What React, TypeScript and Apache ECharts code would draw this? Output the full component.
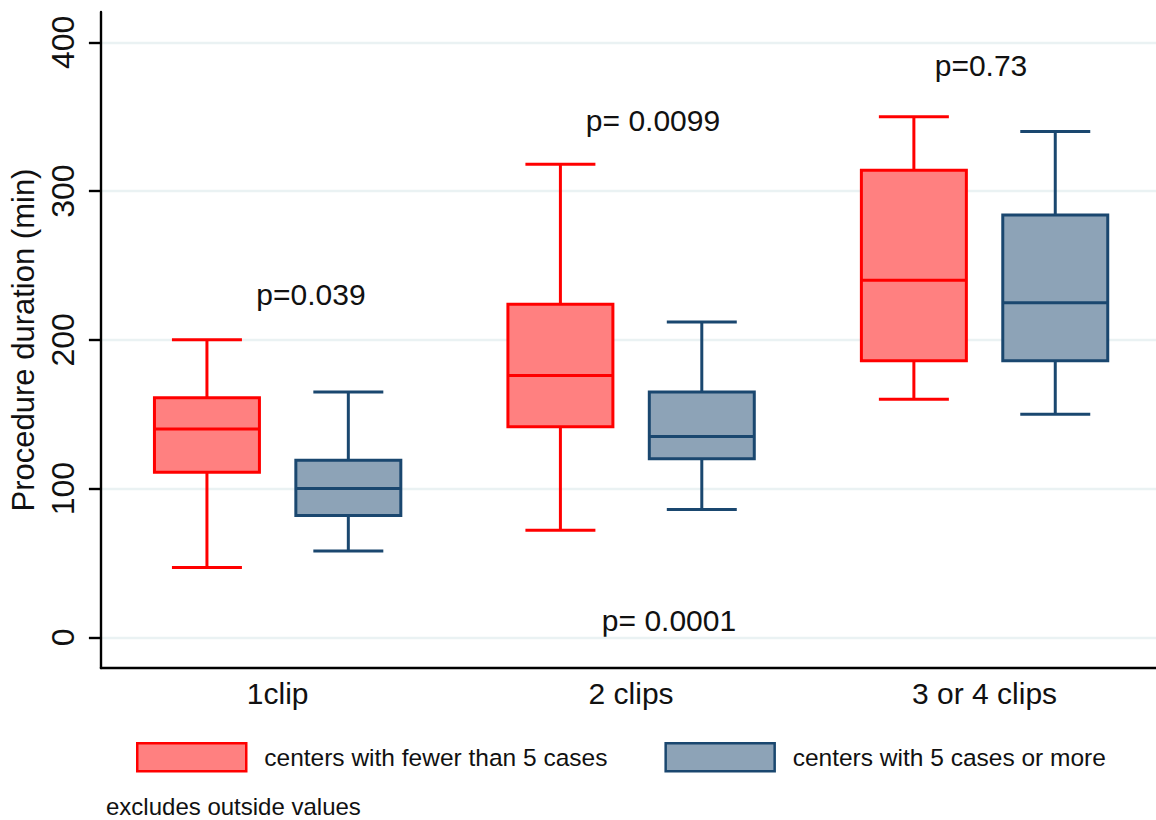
import React, { useEffect, useRef } from "react";
import * as echarts from "echarts";

// ---- data ----
const categories = ["1clip", "2 clips", "3 or 4 clips"];
const categoryIndex = [0, 1, 2];

const fewerMin = [47, 72, 160];
const fewerQ1 = [111, 141.5, 186];
const fewerMedian = [140, 176, 240];
const fewerQ3 = [161, 224, 314];
const fewerMax = [200, 318, 350];

const moreMin = [58, 86, 150];
const moreQ1 = [82, 120, 186];
const moreMedian = [100, 135, 225];
const moreQ3 = [119, 165, 284];
const moreMax = [165, 212, 340];

const yTicks = [0, 100, 200, 300, 400];
const seriesNames = ["centers with fewer than 5 cases", "centers with 5 cases or more"];
const pValueLabels = ["p=0.039", "p= 0.0099", "p=0.73", "p= 0.0001"];
const noteText = "excludes outside values";

// ---- styles ----
const FONT = '"Liberation Sans", Arial, Helvetica, sans-serif';
const FILLS = ["#ff8080", "#8da3b7"];
const STROKES = ["#ff0000", "#1a476f"];
const OFFSETS = [-0.2, 0.2];
const BOX_WIDTH = 0.297;
const CAP_WIDTH = 0.198;
const P_POS = [
  [311, 294],
  [653, 120],
  [981, 65],
  [669, 620],
];

function buildData(mins: number[], q1: number[], med: number[], q3: number[], maxs: number[]) {
  return categoryIndex.map((i) => [i, mins[i], q1[i], med[i], q3[i], maxs[i]]);
}

export default function App() {
  const ref = useRef<HTMLDivElement>(null);

  useEffect(() => {
    if (!ref.current) return;
    const chart = echarts.init(ref.current, undefined, { renderer: "svg" });

    const datasets = [
      buildData(fewerMin, fewerQ1, fewerMedian, fewerQ3, fewerMax),
      buildData(moreMin, moreQ1, moreMedian, moreQ3, moreMax),
    ];

    const series = [0, 1].map((s) => ({
      type: "custom",
      name: seriesNames[s],
      xAxisIndex: 0,
      yAxisIndex: 0,
      clip: false,
      itemStyle: { color: FILLS[s], borderColor: STROKES[s], borderWidth: 3 },
      encode: { x: 0, y: [1, 2, 3, 4, 5] },
      data: datasets[s],
      renderItem: (params: any, api: any) => {
        const x = api.value(0) + OFFSETS[s];
        const yLo = api.coord([x, api.value(1)])[1];
        const yQ1 = api.coord([x, api.value(2)])[1];
        const yMed = api.coord([x, api.value(3)])[1];
        const yQ3 = api.coord([x, api.value(4)])[1];
        const yHi = api.coord([x, api.value(5)])[1];
        const cx = api.coord([x, 0])[0];
        const hb = api.size([BOX_WIDTH, 0])[0] / 2;
        const hc = api.size([CAP_WIDTH, 0])[0] / 2;
        const ls = { stroke: STROKES[s], lineWidth: 3, fill: null };
        return {
          type: "group",
          children: [
            { type: "line", shape: { x1: cx, y1: yQ3, x2: cx, y2: yHi }, style: ls },
            { type: "line", shape: { x1: cx, y1: yQ1, x2: cx, y2: yLo }, style: ls },
            { type: "line", shape: { x1: cx - hc, y1: yHi, x2: cx + hc, y2: yHi }, style: ls },
            { type: "line", shape: { x1: cx - hc, y1: yLo, x2: cx + hc, y2: yLo }, style: ls },
            {
              type: "rect",
              shape: { x: cx - hb, y: yQ3, width: 2 * hb, height: yQ1 - yQ3 },
              style: { fill: FILLS[s], stroke: STROKES[s], lineWidth: 3 },
            },
            { type: "line", shape: { x1: cx - hb, y1: yMed, x2: cx + hb, y2: yMed }, style: ls },
          ],
        };
      },
    }));

    const graphics: any[] = pValueLabels.map((t, i) => ({
      type: "text",
      x: P_POS[i][0],
      y: P_POS[i][1],
      style: {
        text: t,
        font: `30px ${FONT}`,
        fill: "#111",
        textAlign: "center",
        textVerticalAlign: "middle",
      },
    }));
    graphics.push({
      type: "text",
      x: 106,
      y: 806,
      style: {
        text: noteText,
        font: `24px ${FONT}`,
        fill: "#111",
        textAlign: "left",
        textVerticalAlign: "middle",
      },
    });

    chart.setOption({
      animation: false,
      backgroundColor: "#ffffff",
      grid: { left: 100, right: 0, top: 12, bottom: 152, containLabel: false },
      xAxis: {
        type: "value",
        min: -0.5,
        max: 2.485,
        axisLine: { show: true, onZero: false, lineStyle: { color: "#000", width: 2.4 } },
        axisTick: { show: false },
        splitLine: { show: false },
        axisLabel: {
          customValues: categoryIndex,
          formatter: (v: number) => categories[Math.round(v)] ?? "",
          fontSize: 30,
          fontFamily: FONT,
          color: "#111",
          margin: 10,
        },
      },
      yAxis: {
        type: "value",
        min: -20.6,
        max: 420.4,
        name: "Procedure duration (min)",
        nameLocation: "middle",
        nameRotate: 90,
        nameGap: 58,
        nameTextStyle: { fontSize: 31, fontFamily: FONT, color: "#111" },
        axisLine: { show: true, onZero: false, lineStyle: { color: "#000", width: 2.4 } },
        axisTick: { show: true, length: 12, customValues: yTicks, lineStyle: { color: "#000", width: 2.4 } },
        axisLabel: {
          customValues: yTicks,
          rotate: 90,
          fontSize: 32,
          fontFamily: FONT,
          color: "#111",
          margin: 22,
        },
        splitLine: { show: true, lineStyle: { color: "#eaf2f3", width: 2.4 } },
      },
      legend: {
        left: 136,
        top: 742,
        padding: 0,
        itemWidth: 109,
        itemHeight: 28,
        itemGap: 57,
        icon: "rect",
        selectedMode: false,
        textStyle: { fontSize: 24.5, fontFamily: FONT, color: "#111", padding: [0, 0, 0, 13] },
        data: [0, 1].map((s) => ({
          name: seriesNames[s],
          itemStyle: { color: FILLS[s], borderColor: STROKES[s], borderWidth: 2.5 },
        })),
      },
      graphic: graphics,
      series,
    });

    return () => chart.dispose();
  }, []);

  return (
    <div
      ref={ref}
      style={{ position: "absolute", left: 0, top: 0, width: 1156, height: 820, background: "#fff" }}
    />
  );
}
